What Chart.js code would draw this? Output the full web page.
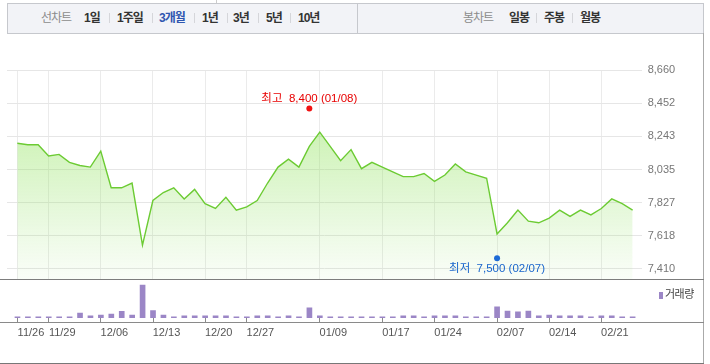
<!DOCTYPE html>
<html lang="ko">
<head>
<meta charset="utf-8">
<script src="https://cdn.jsdelivr.net/npm/chart.js@4.4.1/dist/chart.umd.min.js"></script>
<style>
  body { margin: 0; background: #fff; font-family: "Liberation Sans", "Noto Sans CJK KR", sans-serif; }
  #wrap { position: relative; width: 710px; height: 364px; overflow: hidden; }
  #wrap canvas { position: absolute; left: 0; top: 0; }
  .tabs { position: absolute; top: 3px; height: 31px; box-sizing: border-box; background: #f2f3f7; border: 1px solid #c6c8cd; }
  .item { position: absolute; top: 11px; font-size: 12px; line-height: 14px; font-weight: bold; color: #333; letter-spacing: -1px; white-space: nowrap; }
  .item.label { font-weight: normal; color: #8c8c8c; }
  .item.on { color: #2f56b0; }
  .sep { position: absolute; top: 13px; width: 1px; height: 10px; background: #d5d6da; }
  .hline { position: absolute; left: 0; width: 704px; height: 1px; }
  .legend { position: absolute; left: 659px; top: 285px; font-size: 11px; color: #444; white-space: nowrap; letter-spacing: -0.5px; }
  .legend i { display: inline-block; width: 4px; height: 7px; background: #9b86c6; margin-right: 2px; vertical-align: -1px; }
</style>
</head>
<body>
<div id="wrap">
  <div style="position:absolute;left:216px;top:0;width:1px;height:3px;background:#ccc"></div>
  <div class="tabs" style="left:7px;width:351px"></div>
  <div class="tabs" style="left:357px;width:347px"></div>
  <span class="item label" style="left:41px">선차트</span>
  <span class="item" style="left:84px">1일</span><span class="sep" style="left:109px"></span>
  <span class="item" style="left:117px">1주일</span><span class="sep" style="left:152px"></span>
  <span class="item on" style="left:159px">3개월</span><span class="sep" style="left:194px"></span>
  <span class="item" style="left:202px">1년</span><span class="sep" style="left:227px"></span>
  <span class="item" style="left:233px">3년</span><span class="sep" style="left:258px"></span>
  <span class="item" style="left:266px">5년</span><span class="sep" style="left:290px"></span>
  <span class="item" style="left:298px">10년</span>
  <span class="item label" style="left:463px">봉차트</span>
  <span class="item" style="left:509px">일봉</span><span class="sep" style="left:536px"></span>
  <span class="item" style="left:544px">주봉</span><span class="sep" style="left:572px"></span>
  <span class="item" style="left:580px">월봉</span>

  <div style="position:absolute;left:703px;top:33px;width:1px;height:331px;background:#aaa"></div>
  <canvas id="price" width="710" height="364"></canvas>
  <canvas id="volume" width="710" height="364"></canvas>
  <div class="hline" style="top:279px;background:#7d7d7d"></div>
  <div class="hline" style="top:322px;background:#8a8a8a"></div>
  <div class="hline" style="top:363px;background:#777"></div>
  <div class="legend"><i></i>거래량</div>
</div>

<script>
// trading days, 2018-11-26 .. 2019-02-26
const dates = [
  '11/26', '11/27', '11/28', '11/29', '11/30', '12/03', '12/04', '12/05', '12/06', '12/07',
  '12/10', '12/11', '12/12', '12/13', '12/14', '12/17', '12/18', '12/19', '12/20', '12/21',
  '12/24', '12/26', '12/27', '12/28', '01/02', '01/03', '01/04', '01/07', '01/08', '01/09',
  '01/10', '01/11', '01/14', '01/15', '01/16', '01/17', '01/18', '01/21', '01/22', '01/23',
  '01/24', '01/25', '01/28', '01/29', '01/30', '01/31', '02/07', '02/08', '02/11', '02/12',
  '02/13', '02/14', '02/15', '02/18', '02/19', '02/20', '02/21', '02/22', '02/25', '02/26'
];

// closing price
const prices = [
  8200, 8190, 8190, 8120, 8130, 8080, 8060, 8050, 8150, 7920,
  7920, 7950, 7560, 7840, 7890, 7920, 7850, 7910, 7820, 7790,
  7860, 7780, 7800, 7840, 7950, 8050, 8100, 8050, 8180, 8270,
  8180, 8090, 8160, 8040, 8080, 8050, 8020, 7990, 7990, 8010,
  7960, 8000, 8070, 8020, 8000, 7980, 7630, 7700, 7780, 7710,
  7700, 7730, 7780, 7740, 7780, 7750, 7790, 7850, 7820, 7780
];

// 거래량
const volumes = [
  13000, 13000, 13000, 13000, 13000, 13000, 53000, 23000, 33000, 43000,
  73000, 33000, 363000, 83000, 33000, 13000, 23000, 23000, 23000, 23000,
  23000, 13000, 13000, 23000, 23000, 13000, 23000, 13000, 113000, 23000,
  13000, 13000, 13000, 13000, 13000, 13000, 13000, 23000, 23000, 13000,
  23000, 23000, 23000, 13000, 13000, 13000, 123000, 77000, 67000, 77000,
  23000, 33000, 23000, 23000, 23000, 13000, 23000, 23000, 13000, 13000
];

const tickDates = ['11/26', '11/29', '12/06', '12/13', '12/20', '12/27', '01/09', '01/17', '01/24', '02/07', '02/14', '02/21'];
const priceTicks = [8660, 8452, 8243, 8035, 7827, 7618, 7410];

const high = { date: '01/08', value: 8400 };
const low = { date: '02/07', value: 7500 };

const tickIdx = tickDates.map(d => dates.indexOf(d));
const xMin = -0.99, xMax = 59.87;
const comma = v => String(v).replace(/\B(?=(\d{3})+(?!\d))/g, ',');

const extremes = {
  id: 'extremes',
  afterDatasetsDraw(chart) {
    const { ctx, scales: { x, y } } = chart;
    const marks = [
      { m: high, label: '최고  ' + comma(high.value) + ' (' + high.date + ')', color: '#f01212', text: '#e80000', dot: -3, txt: -10 },
      { m: low, label: '최저  ' + comma(low.value) + ' (' + low.date + ')', color: '#1d6ad6', text: '#1a66cc', dot: 3.5, txt: 11 }
    ];
    ctx.save();
    marks.forEach(k => {
      const px = x.getPixelForValue(dates.indexOf(k.m.date));
      const py = y.getPixelForValue(k.m.value) + k.dot;
      ctx.fillStyle = k.color;
      ctx.beginPath();
      ctx.arc(px, py, 3, 0, Math.PI * 2);
      ctx.fill();
      ctx.fillStyle = k.text;
      ctx.font = '11.5px "Liberation Sans", "Noto Sans CJK KR"';
      ctx.textAlign = 'center';
      ctx.textBaseline = 'middle';
      ctx.fillText(k.label, px, py + k.txt);
    });
    ctx.restore();
  }
};

const xTicks = s => { s.ticks = tickIdx.map(v => ({ value: v })); };

new Chart(document.getElementById('price'), {
  type: 'line',
  data: {
    datasets: [{
      data: prices.map((p, i) => ({ x: i, y: p })),
      borderColor: '#6ccb33',
      borderWidth: 1.4,
      pointRadius: 0,
      fill: 'start',
      backgroundColor: ctx => {
        const area = ctx.chart.chartArea;
        if (!area) return 'rgba(150,225,100,0.3)';
        const g = ctx.chart.ctx.createLinearGradient(0, area.top, 0, area.bottom);
        g.addColorStop(0, 'rgba(140,228,80,0.6)');
        g.addColorStop(1, 'rgba(150,225,110,0.05)');
        return g;
      }
    }]
  },
  options: {
    responsive: false,
    animation: false,
    layout: { padding: { left: 7, top: 70, bottom: 85 } },
    plugins: { legend: { display: false }, tooltip: { enabled: false } },
    scales: {
      x: {
        type: 'linear', min: xMin, max: xMax,
        afterBuildTicks: xTicks,
        ticks: { display: false },
        grid: { color: '#ebebeb', drawTicks: false },
        border: { display: false }
      },
      y: {
        position: 'right', min: 7347, max: 8660,
        afterBuildTicks: s => { s.ticks = priceTicks.map(v => ({ value: v })); },
        afterFit: s => { s.width = 68.3; },
        ticks: { padding: 6, color: '#777', font: { size: 11, family: '"Liberation Sans"' }, callback: v => comma(v) },
        grid: { color: '#e6e6e6', drawTicks: false },
        border: { display: false }
      }
    }
  },
  plugins: [extremes]
});

new Chart(document.getElementById('volume'), {
  type: 'bar',
  data: {
    datasets: [{
      data: volumes.map((v, i) => ({ x: i, y: v })),
      backgroundColor: '#9b86c6',
      barThickness: 5
    }]
  },
  options: {
    responsive: false,
    animation: false,
    layout: { padding: { left: 7, right: 68.3, top: 279, bottom: 20.8 } },
    plugins: { legend: { display: false }, tooltip: { enabled: false } },
    scales: {
      x: {
        type: 'linear', min: xMin, max: xMax, offset: false,
        afterBuildTicks: xTicks,
        ticks: { autoSkip: false, maxRotation: 0, labelOffset: 13.5, padding: 4, color: '#555', font: { size: 11, family: '"Liberation Sans"' }, callback: v => dates[v] },
        grid: { offset: false, drawOnChartArea: false, tickLength: 4, color: '#8a8a8a' },
        border: { display: false }
      },
      y: { display: false, min: 0, max: 430000 }
    }
  }
});
</script>
</body>
</html>
